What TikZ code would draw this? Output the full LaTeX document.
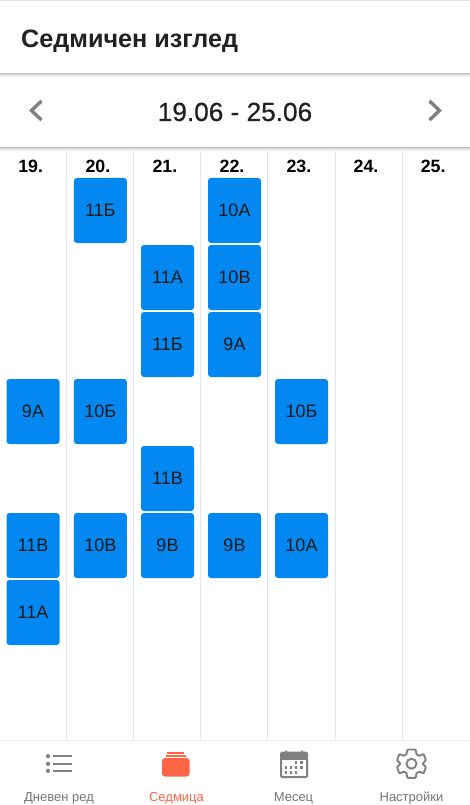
\documentclass[tikz,border=0pt]{standalone}
\usepackage{fontspec}
\setmainfont{Liberation Sans}
\newfontfamily\medfont[FakeBold=0.5]{Liberation Sans}
\definecolor{cblue}{HTML}{0288F0}
\definecolor{cgrid}{HTML}{E4E6E6}
\definecolor{cicon}{HTML}{808080}
\definecolor{clabel}{HTML}{757575}
\definecolor{cred}{HTML}{FF6545}
\definecolor{cdark}{HTML}{212121}
\newcommand{\fs}[1]{\fontsize{#1}{#1}\selectfont}
\tikzset{
  lesson/.style={fill=cblue,rounded corners=3pt,minimum width=53pt,minimum height=65pt,inner sep=0pt,text=black!90,font=\fs{18}},
  dayhead/.style={font=\fs{17.8}\bfseries,text=black,inner sep=0pt,anchor=base},
  tablabel/.style={font=\fs{13},text=clabel,inner sep=0pt,anchor=base},
  gridline/.style={draw=cgrid,line width=1.1pt},
  chev/.style={draw=cicon,line width=3.4pt,line join=miter,line cap=butt},
  iconline/.style={draw=cicon,line width=2.3pt}
}
\begin{document}
\begin{tikzpicture}[x=1pt,y=-1pt]
\useasboundingbox (0,0) rectangle (470,805);
\fill[white] (0,0) rectangle (470,805);
\fill[gray!20] (0,0) rectangle (470,1);
% grid
\foreach \x in {66.7,133.8,200.8,267.9,335.1,402.2}
  \draw[gridline] (\x,148) -- (\x,740);
% header shadows
\foreach \i/\c in {0/24,1/16,2/9,3/4}{
  \fill[black!\c!white] (0,73+\i) rectangle (470,74+\i);
  \fill[black!\c!white] (0,147+\i) rectangle (470,148+\i);
}
% bottom bar
\fill[white] (0,741) rectangle (470,805);
\draw[draw=cgrid!70!white,line width=1pt] (0,740.5) -- (470,740.5);
% texts in header
\node[font=\fs{25.2}\bfseries,text=cdark,inner sep=0pt,anchor=base west] (title) at (21,47.5) {Седмичен изглед};
\node[font=\fs{26.2}\medfont,text=cdark,inner sep=0pt,anchor=base] (range) at (235,121) {19.06 - 25.06};
\draw[chev] (41.5,101) -- (31.5,110.5) -- (41.5,120);
\draw[chev] (429.5,101) -- (439.5,110.5) -- (429.5,120);
% day headers
\foreach \x/\d in {30.7/19,97.9/20,164.9/21,232/22,298.9/23,366/24,433.2/25}
  \node[dayhead] (d\d) at (\x,172.7) {\d.};
% lessons
\foreach \n/\x/\y/\t in {
 a/33/411.5/9А, b/33/545.5/11В, c/33/612.5/11А,
 e/100.3/210.5/11Б, f/100.3/411.5/10Б, g/100.3/545.5/10В,
 h/167.5/277.5/11А, i/167.5/344.5/11Б, j/167.5/478.5/11В, k/167.5/545.5/9В,
 l/234.5/210.5/10А, m/234.5/277.5/10В, o/234.5/344.5/9А, p/234.5/545.5/9В,
 q/301.5/411.5/10Б, r/301.5/545.5/10А}
  \node[lesson] (\n) at (\x,\y) {\raisebox{-1.2pt}{\t}};
% tab 1: list
\foreach \y in {756.2,763.8,770.8}{
  \fill[cicon] (48,\y) circle (2.1pt);
  \draw[iconline] (53,\y) -- (71.5,\y);
}
\node[tablabel] (t1) at (59,801) {Дневен ред};
% tab 2: stack
\fill[cred] (167,752) rectangle (184,754);
\fill[cred] (165.5,755) rectangle (186,757.3);
\fill[cred,rounded corners=3pt] (162,758) rectangle (189.5,776.5);
\node[tablabel,text=cred] (t2) at (176.5,801) {Седмица};
% tab 3: calendar
\draw[draw=cicon,line width=2pt,rounded corners=1pt] (281,752.5) rectangle (307,777);
\fill[cicon] (281,752) rectangle (307,759.5);
\fill[cicon] (285,750.5) rectangle (287,753) (301,750.5) rectangle (303,753);
\foreach \x/\y in {296/762.5,301.5/762.5,286/767.5,291/767.5,296/767.5,301.5/767.5,286/772.5,291/772.5,296/772.5}
  \fill[cicon] (\x-1.3,\y-1.2) rectangle (\x+1.3,\y+1.2);
\node[tablabel] (t3) at (293.5,801) {Месец};
% tab 4: gear
\begin{scope}[shift={(411.5,763.7)}]
\draw[draw=cicon,line width=1.9pt,line join=round]
  plot[smooth cycle,tension=0.25] coordinates {
   (-4,-14) (4,-14) (5,-9.5) (8,-8) (12,-9.5) (14.3,-3.5) (11.5,-0.5) (11.5,0.5) (14.3,3.5)
   (12,9.5) (8,8) (5,9.5) (4,14) (-4,14) (-5,9.5) (-8,8) (-12,9.5) (-14.3,3.5) (-11.5,0.5)
   (-11.5,-0.5) (-14.3,-3.5) (-12,-9.5) (-8,-8) (-5,-9.5)};
\draw[draw=cicon,line width=1.9pt] (0,0) circle (5pt);
\end{scope}
\node[tablabel] (t4) at (411.5,801) {Настройки};
\end{tikzpicture}
\end{document}
